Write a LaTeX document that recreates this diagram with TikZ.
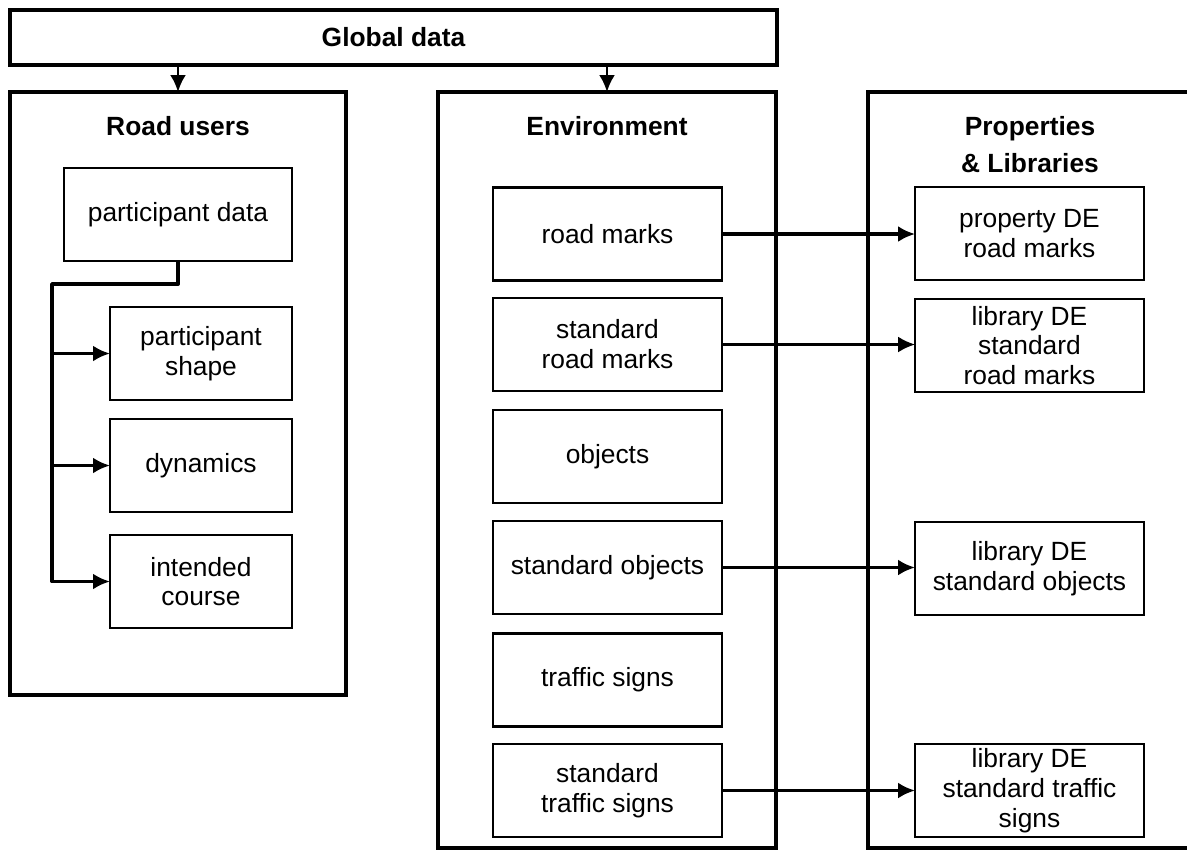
\documentclass[tikz,border=0pt]{standalone}
\usepackage{fontspec}
\setmainfont{Liberation Sans}
\usetikzlibrary{arrows.meta}
\begin{document}
\begin{tikzpicture}[x=0.02cm, y=-0.02cm]
\tikzset{ >={Latex[length=3.4mm,width=3.2mm]}, inner sep=0pt, outer sep=0pt,
  outer/.style={draw, line width=2.2pt},
  box/.style={draw, line width=1.2pt, minimum width=4.58cm, minimum height=1.86cm,
              align=center, font=\fontsize{15}{17}\selectfont},
  ttl/.style={align=center, font=\fontsize{15}{17}\selectfont\bfseries},
}

%\draw [lightgray, dashed](0,0) grid [step=50] (1187,850);
\clip (0,0) rectangle (1187,850);

\node [outer, minimum width=15.34cm, minimum height=1.1cm, ttl] (G) at (393.5,37.5) {Global data};

\node [outer, minimum width=6.72cm, minimum height=12.06cm] (RU)  at (178,393.5) {};
\node [outer, minimum width=6.76cm, minimum height=15.12cm] (ENV) at (607,470) {};
\node [outer, minimum width=6.84cm, minimum height=15.12cm] (PL)  at (1039,470) {};

\node [ttl] (RUt)  at (178,126) {Road users};
\node [ttl] (ENVt) at (607,126) {Environment};
\node [ttl] (PLt)  at (1030,144.5) {Properties\\[4pt]\& Libraries};

% road users
\node [box, minimum width=4.56cm] (PD) at (178,214.5) {participant data};
\node [box, minimum width=3.64cm] (PS) at (201,353.5) {participant\\shape};
\node [box, minimum width=3.64cm] (DY) at (201,465.5) {dynamics};
\node [box, minimum width=3.64cm] (IC) at (201,581.5) {intended\\course};

% environment
\node [box] (RM)  at (607.5,234)   {road marks};
\node [box] (SRM) at (607.5,344.5) {standard\\road marks};
\node [box] (OB)  at (607.5,456.5) {objects};
\node [box] (SO)  at (607.5,567.5) {standard objects};
\node [box] (TS)  at (607.5,680)   {traffic signs};
\node [box] (STS) at (607.5,790.5) {standard\\traffic signs};

% properties & libraries
\node [box] (PRM) at (1029.5,233.5) {property DE\\road marks};
\node [box] (LRM) at (1029.5,345.5) {library DE\\standard\\road marks};
\node [box] (LSO) at (1029.5,568.5) {library DE\\standard objects};
\node [box] (LTS) at (1029.5,790.5) {library DE\\standard traffic\\signs};

\draw [->, line width=1.7pt] (RU.north |- G.south)  -- (RU.north);
\draw [->, line width=1.7pt] (ENV.north |- G.south) -- (ENV.north);

\coordinate (B) at (52,284);
\draw [->, line width=2.2pt, line join=round] (PD.south) |- (B) |- (IC.west);
\draw [->, line width=2.2pt] (B |- PS.west) -- (PS.west);
\draw [->, line width=2.2pt] (B |- DY.west) -- (DY.west);

\draw [->, line width=1.8pt] (RM.east)  -- (RM.east -| PRM.west);
\draw [->, line width=1.3pt] (SRM.east) -- (SRM.east -| LRM.west);
\draw [->, line width=1.8pt] (SO.east)  -- (SO.east -| LSO.west);
\draw [->, line width=1.8pt] (STS.east) -- (STS.east -| LTS.west);

\end{tikzpicture}
\end{document}
